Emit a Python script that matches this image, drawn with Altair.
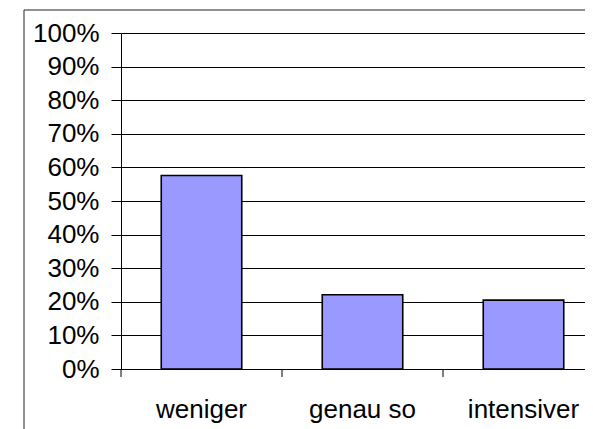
import altair as alt
import pandas as pd

categories = ["weniger", "genau so", "intensiver"]
values = [0.576, 0.221, 0.205]
y_ticks = [0.0, 0.1, 0.2, 0.3, 0.4, 0.5, 0.6, 0.7, 0.8, 0.9, 1.0]

df = pd.DataFrame({"cat": categories, "val": values})
frame_df = pd.DataFrame({"a": [0]})

FONT = "Liberation Sans"
FS = 26

xscale = alt.Scale(domain=categories, range=[0, 483], paddingInner=0, paddingOuter=0)
yscale = alt.Scale(domain=[0, 1])

bars = alt.Chart(df).mark_bar(
    color="#9999FF", stroke="black", strokeWidth=1.6, width={"band": 0.5}
).encode(
    x=alt.X("cat:N", scale=xscale, sort=categories, title=None,
            axis=alt.Axis(labelAngle=0, ticks=False, tickSize=0, labelPadding=48,
                          labelBaseline="alphabetic", labelFont=FONT, labelFontSize=FS,
                          labelColor="black", domainColor="black", domainWidth=1,
                          grid=False)),
    y=alt.Y("val:Q", scale=yscale, title=None,
            axis=alt.Axis(values=y_ticks, format=".0%", labelFont=FONT, labelFontSize=FS,
                          labelColor="black", tickColor="black", tickSize=10, tickWidth=1,
                          labelPadding=12, domainColor="black", domainWidth=1,
                          grid=True, gridColor="black", gridWidth=1, gridOpacity=1)),
)

xticks = alt.Chart(df).mark_rule(color="black", strokeWidth=1).encode(
    x=alt.X("cat:N", scale=xscale, sort=categories, bandPosition=0),
    y=alt.value(336),
    y2=alt.value(344),
)

frame_v = alt.Chart(frame_df).mark_rule(color="#222222", strokeWidth=1).encode(
    x=alt.value(-97), y=alt.value(-23), y2=alt.value(400)
)
frame_h = alt.Chart(frame_df).mark_rule(color="#222222", strokeWidth=1).encode(
    x=alt.value(-97), x2=alt.value(480), y=alt.value(-23)
)

chart = alt.layer(bars, xticks, frame_v, frame_h).properties(
    width=464, height=336,
    autosize=alt.AutoSizeParams(type="none"),
    padding={"left": 113, "top": 25, "right": 0, "bottom": 60},
    background="white",
).configure_view(stroke=None)

chart.save("out.html", embed_options={"renderer": "svg", "actions": False})
